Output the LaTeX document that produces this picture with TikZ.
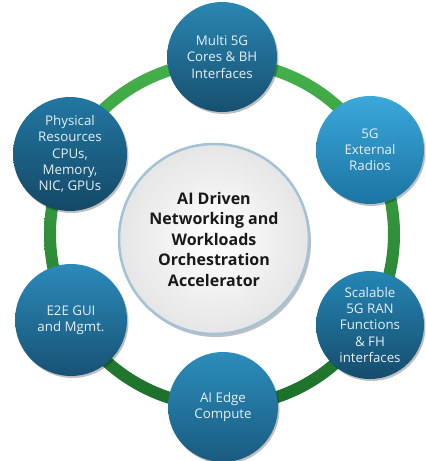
\documentclass[tikz,border=0pt]{standalone}
\usepackage{fontspec}
\setmainfont{Open Sans}
\usetikzlibrary{shadows}
\definecolor{ringtop}{HTML}{45B24B}
\definecolor{ringbot}{HTML}{1B6F29}
\definecolor{celltext}{HTML}{E6F0F5}
\definecolor{hubline}{HTML}{A3C2D6}
\definecolor{aT}{HTML}{2A86B2}\definecolor{aB}{HTML}{17506F}
\definecolor{bT}{HTML}{3AA8DA}\definecolor{bB}{HTML}{1C74A2}
\definecolor{cT}{HTML}{2586B4}\definecolor{cB}{HTML}{154C6C}
\definecolor{dT}{HTML}{2C8DBB}\definecolor{dB}{HTML}{195B80}
\definecolor{eT}{HTML}{2C8ABA}\definecolor{eB}{HTML}{175274}
\definecolor{fT}{HTML}{2277A2}\definecolor{fB}{HTML}{144866}
\begin{document}
\begin{tikzpicture}[x=1pt,y=-1pt,
  cell/.style={circle, minimum size=110pt, inner sep=0pt, align=center,
    text=celltext, font=\fontsize{13.3}{16.2}\selectfont,
    drop shadow={shadow xshift=1.5pt, shadow yshift=-2pt, opacity=0.25, fill=black}},
  hub/.style={circle, minimum size=190pt, inner sep=0pt, align=center,
    inner color=white, outer color=black!10, draw=hubline, line width=2.5pt,
    font=\bfseries\fontsize{16}{20.5}\selectfont, text=black!90,
    drop shadow={shadow xshift=2pt, shadow yshift=-3pt, opacity=0.25, fill=black}}]
\useasboundingbox (0,0) rectangle (426,461);
\fill[white] (0,0) rectangle (426,461);
\coordinate (rc) at (222,234);
\shade[even odd rule, top color=ringtop, bottom color=ringbot]
  (rc) circle[radius=178pt] (rc) circle[radius=166pt];
\node[hub] (hub) at (214,239) {AI Driven\\Networking and\\Workloads\\Orchestration\\Accelerator};
\node[cell, top color=aT, bottom color=aB] (core) at (222,57) {Multi 5G\\Cores \& BH\\Interfaces};
\node[cell, top color=bT, bottom color=bB, minimum size=108pt] (radio) at (370,150) {5G\\External\\Radios};
\node[cell, top color=cT, bottom color=cB, minimum size=108pt] (ran) at (370,325) {Scalable\\5G RAN\\Functions\\\& FH\\interfaces};
\node[cell, top color=dT, bottom color=dB] (edge) at (223,407) {AI Edge\\Compute};
\node[cell, top color=eT, bottom color=eB, minimum size=112pt] (gui) at (71,320) {E2E GUI\\and Mgmt.};
\node[cell, top color=fT, bottom color=fB, minimum size=114pt] (phys) at (70,154) {Physical\\Resources\\CPUs,\\Memory,\\NIC, GPUs};
\end{tikzpicture}
\end{document}
